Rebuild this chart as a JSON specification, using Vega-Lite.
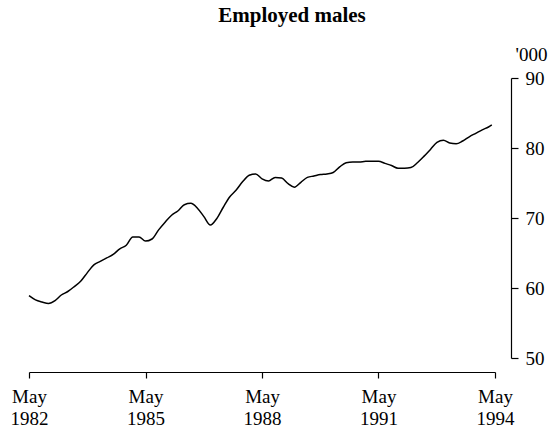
{
  "$schema": "https://vega.github.io/schema/vega-lite/v6.json",
  "autosize": "none",
  "width": 466,
  "height": 280,
  "padding": {"left": 29, "top": 78, "right": 59, "bottom": 77},
  "background": "white",
  "config": {"view": {"stroke": null}},
  "title": {
    "text": "Employed males",
    "font": "Liberation Serif",
    "fontSize": 21,
    "fontWeight": "bold",
    "color": "black",
    "anchor": "middle",
    "frame": "group",
    "dx": 30,
    "offset": 19
  },
  "data": {
    "values": [
      {"date": "1982-05-01", "value": 58.9},
      {"date": "1982-07-01", "value": 58.3},
      {"date": "1982-09-01", "value": 58.0},
      {"date": "1982-11-01", "value": 57.8},
      {"date": "1983-01-01", "value": 58.2},
      {"date": "1983-03-01", "value": 59.0},
      {"date": "1983-05-01", "value": 59.5},
      {"date": "1983-07-01", "value": 60.2},
      {"date": "1983-09-01", "value": 61.0},
      {"date": "1983-11-01", "value": 62.2},
      {"date": "1984-01-01", "value": 63.3},
      {"date": "1984-03-01", "value": 63.8},
      {"date": "1984-05-01", "value": 64.3},
      {"date": "1984-07-01", "value": 64.8},
      {"date": "1984-09-01", "value": 65.6},
      {"date": "1984-11-01", "value": 66.1},
      {"date": "1985-01-01", "value": 67.3},
      {"date": "1985-03-01", "value": 67.3},
      {"date": "1985-05-01", "value": 66.7},
      {"date": "1985-07-01", "value": 67.0},
      {"date": "1985-09-01", "value": 68.3},
      {"date": "1985-11-01", "value": 69.4},
      {"date": "1986-01-01", "value": 70.4},
      {"date": "1986-03-01", "value": 71.0},
      {"date": "1986-05-01", "value": 71.9},
      {"date": "1986-07-01", "value": 72.1},
      {"date": "1986-09-01", "value": 71.4},
      {"date": "1986-11-01", "value": 70.2},
      {"date": "1987-01-01", "value": 69.0},
      {"date": "1987-03-01", "value": 69.9},
      {"date": "1987-05-01", "value": 71.5},
      {"date": "1987-07-01", "value": 73.0},
      {"date": "1987-09-01", "value": 74.0},
      {"date": "1987-11-01", "value": 75.2},
      {"date": "1988-01-01", "value": 76.1},
      {"date": "1988-03-01", "value": 76.3},
      {"date": "1988-05-01", "value": 75.6},
      {"date": "1988-07-01", "value": 75.3},
      {"date": "1988-09-01", "value": 75.8},
      {"date": "1988-11-01", "value": 75.7},
      {"date": "1989-01-01", "value": 74.9},
      {"date": "1989-03-01", "value": 74.4},
      {"date": "1989-05-01", "value": 75.1},
      {"date": "1989-07-01", "value": 75.8},
      {"date": "1989-09-01", "value": 76.0},
      {"date": "1989-11-01", "value": 76.2},
      {"date": "1990-01-01", "value": 76.3},
      {"date": "1990-03-01", "value": 76.5},
      {"date": "1990-05-01", "value": 77.3},
      {"date": "1990-07-01", "value": 77.9},
      {"date": "1990-09-01", "value": 78.0},
      {"date": "1990-11-01", "value": 78.0},
      {"date": "1991-01-01", "value": 78.1},
      {"date": "1991-03-01", "value": 78.1},
      {"date": "1991-05-01", "value": 78.1},
      {"date": "1991-07-01", "value": 77.8},
      {"date": "1991-09-01", "value": 77.5},
      {"date": "1991-11-01", "value": 77.1},
      {"date": "1992-01-01", "value": 77.1},
      {"date": "1992-03-01", "value": 77.2},
      {"date": "1992-05-01", "value": 77.9},
      {"date": "1992-07-01", "value": 78.8},
      {"date": "1992-09-01", "value": 79.8},
      {"date": "1992-11-01", "value": 80.8},
      {"date": "1993-01-01", "value": 81.1},
      {"date": "1993-03-01", "value": 80.7},
      {"date": "1993-05-01", "value": 80.6},
      {"date": "1993-07-01", "value": 81.0},
      {"date": "1993-09-01", "value": 81.6},
      {"date": "1993-11-01", "value": 82.1},
      {"date": "1994-01-01", "value": 82.6},
      {"date": "1994-03-01", "value": 83.0},
      {"date": "1994-04-01", "value": 83.3}
    ]
  },
  "mark": {"type": "line", "color": "black", "strokeWidth": 1.5, "interpolate": "monotone"},
  "encoding": {
    "x": {
      "field": "date",
      "type": "temporal",
      "scale": {
        "type": "utc",
        "domain": [
          {"year": 1982, "month": "May", "date": 1, "utc": true},
          {"year": 1994, "month": "May", "date": 1, "utc": true}
        ],
        "nice": false
      },
      "axis": {
        "title": null,
        "orient": "bottom",
        "offset": 14,
        "grid": false,
        "values": [
          {"year": 1982, "month": "May", "date": 1, "utc": true},
          {"year": 1985, "month": "May", "date": 1, "utc": true},
          {"year": 1988, "month": "May", "date": 1, "utc": true},
          {"year": 1991, "month": "May", "date": 1, "utc": true},
          {"year": 1994, "month": "May", "date": 1, "utc": true}
        ],
        "labelExpr": "['May', utcFormat(datum.value, '%Y')]",
        "labelFont": "Liberation Serif",
        "labelFontSize": 19,
        "labelColor": "black",
        "labelLineHeight": 22,
        "labelPadding": 9,
        "labelFlush": false,
        "labelOverlap": false,
        "labelBound": false,
        "tickSize": 6,
        "tickColor": "black",
        "domainColor": "black",
        "tickWidth": 1.2,
        "domainWidth": 1.2
      }
    },
    "y": {
      "field": "value",
      "type": "quantitative",
      "scale": {"domain": [50, 90], "nice": false, "zero": false},
      "axis": {
        "orient": "right",
        "offset": 16,
        "grid": false,
        "values": [50, 60, 70, 80, 90],
        "title": "'000",
        "titleFont": "Liberation Serif",
        "titleFontSize": 19,
        "titleFontWeight": "normal",
        "titleColor": "black",
        "titleAngle": 0,
        "titleX": 20,
        "titleY": -24,
        "titleAlign": "center",
        "titleBaseline": "middle",
        "labelFont": "Liberation Serif",
        "labelFontSize": 19,
        "labelColor": "black",
        "labelPadding": 7,
        "labelFlush": false,
        "labelBound": false,
        "tickSize": 7,
        "tickColor": "black",
        "domainColor": "black",
        "tickWidth": 1.2,
        "domainWidth": 1.2
      }
    }
  }
}
